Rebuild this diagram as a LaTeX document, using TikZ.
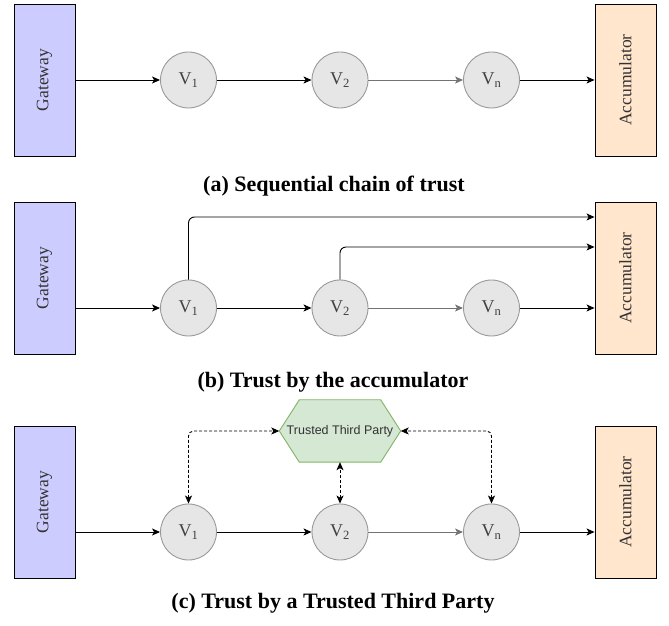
\documentclass[tikz,border=0pt]{standalone}
\usepackage{fontspec}
\usepackage{graphicx}
\setmainfont{Liberation Serif}
\newfontfamily\sansfont{Liberation Sans}
\usetikzlibrary{arrows.meta,backgrounds}
\definecolor{gatefill}{HTML}{CCCCFF}
\definecolor{accfill}{HTML}{FFE6CC}
\definecolor{ttpfill}{HTML}{D5E8D4}
\definecolor{ttpline}{HTML}{82B366}
\definecolor{valfill}{HTML}{E6E6E6}
\definecolor{valline}{HTML}{999999}

\begin{document}
\begin{tikzpicture}[x=1pt,y=1pt,
  box/.style={draw,line width=0.9pt,minimum width=61pt,minimum height=152pt,inner sep=0pt,font=\fontsize{17.5}{20}\selectfont,text=black!80},
  gate/.style={box,fill=gatefill},
  acc/.style={box,fill=accfill},
  val/.style={circle,draw=valline,line width=0.9pt,fill=valfill,minimum size=56pt,inner sep=0pt,font=\fontsize{18}{20}\selectfont,text=black!75},
  arr/.style={line width=0.9pt,-{Stealth[length=8pt,width=7pt,inset=2pt]}},
  dots/.style={line width=0.9pt,dash pattern=on 3pt off 2pt,{Stealth[length=8pt,width=7pt,inset=2pt]}-{Stealth[length=8pt,width=7pt,inset=2pt]},rounded corners=5pt},
  caption/.style={font=\fontsize{22}{26}\selectfont\bfseries}]
\useasboundingbox (0,0) rectangle (669,626);

% the three rows: gateway, validators, accumulator
\foreach \r/\ly/\by in {a/546/546,b/318/348,c/94/124}{
  \node[gate] (g\r) at (44.5,\by) {\rotatebox{90}{Gateway}};
  \node[acc] (acc\r) at (625.5,\by) {\rotatebox{90}{Accumulator}};
  \node[val] (v1\r) at (188.5,\ly) {V\textsubscript{1}};
  \node[val] (v2\r) at (340,\ly) {V\textsubscript{2}};
  \node[val] (vn\r) at (491.5,\ly) {V\textsubscript{n}};
  \draw[arr] (g\r.east |- v1\r) -- (v1\r);
  \draw[arr] (v1\r) -- (v2\r);
  \draw[arr,black!55] (v2\r) -- (vn\r);
  \draw[arr] (vn\r) -- (acc\r.west |- vn\r);
}

% (b) every validator reports to the accumulator
\draw[arr,rounded corners=6pt] (v1b) |- (accb.west |- 0,409);
\draw[arr,rounded corners=6pt] (v2b) |- (accb.west |- 0,379);

% (c) trusted third party
\node[minimum width=121pt,minimum height=62pt,inner sep=0pt,font=\sansfont\fontsize{12.5}{14}\selectfont,text=black!80] (ttp) at (340,195) {Trusted Third Party};
\begin{scope}[on background layer]
  \filldraw[draw=ttpline,fill=ttpfill,line width=0.9pt] (ttp.west) -- ([xshift=20pt]ttp.north west) -- ([xshift=-20pt]ttp.north east)
    -- (ttp.east) -- ([xshift=-20pt]ttp.south east) -- ([xshift=20pt]ttp.south west) -- cycle;
\end{scope}
\draw[dots] (v1c) |- (ttp.west);
\draw[dots] (v2c) -- (ttp.south);
\draw[dots] (vnc) |- (ttp.east);

\node[caption] (capa) at (334,440) {(a) Sequential chain of trust};
\node[caption] (capb) at (333,244) {(b) Trust by the accumulator};
\node[caption] (capc) at (333,23) {(c) Trust by a Trusted Third Party};
\end{tikzpicture}
\end{document}
